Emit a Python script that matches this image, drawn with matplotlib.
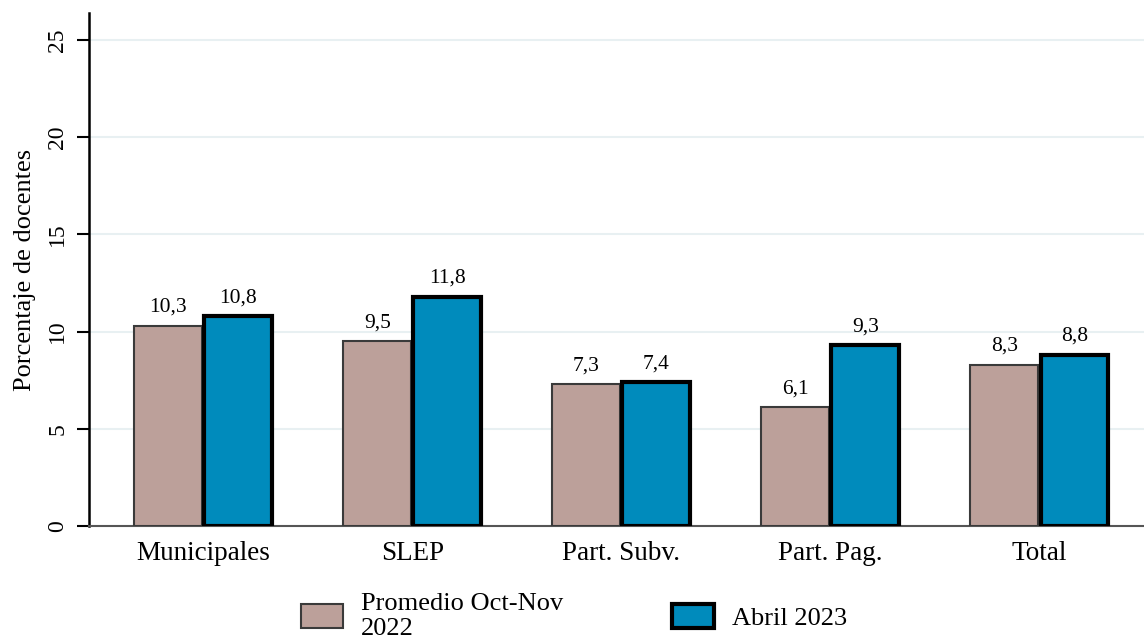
import numpy as np
import matplotlib.pyplot as plt

categories = ["Municipales", "SLEP", "Part. Subv.", "Part. Pag.", "Total"]
promedio_2022 = [10.3, 9.5, 7.3, 6.1, 8.3]
abril_2023 = [10.8, 11.8, 7.4, 9.3, 8.8]
series_labels = ["Promedio Oct-Nov\n2022", "Abril 2023"]
yticks = [0, 5, 10, 15, 20, 25]

plt.rcParams['font.family'] = ['Liberation Serif', 'DejaVu Serif']

fig = plt.figure(figsize=(11.44, 6.4), dpi=100)
ax = fig.add_axes([0.078, 0.178, 0.922, 0.802])

x = np.arange(len(categories))
w = 0.325
b1 = ax.bar(x - w / 2 - 0.005, promedio_2022, w, color='#BCA09A',
            edgecolor='#3a3a3a', linewidth=1.5, label=series_labels[0], zorder=3)
b2 = ax.bar(x + w / 2 + 0.005, abril_2023, w, color='#008BBC',
            edgecolor='black', linewidth=3, label=series_labels[1], zorder=3)

# value labels with comma decimals
for bars, vals in [(b1, promedio_2022), (b2, abril_2023)]:
    for r, v in zip(bars, vals):
        ax.annotate(f"{v:.1f}".replace('.', ','),
                    (r.get_x() + r.get_width() / 2, r.get_height()),
                    xytext=(0, 6.5), textcoords='offset points',
                    ha='center', va='bottom', fontsize=15.5)

ax.set_ylim(0, 26.4)
ax.set_xlim(-0.545, 4.5)
ax.set_yticks(yticks)
ax.set_yticklabels([str(t) for t in yticks], rotation=90, va='center', fontsize=17)
ax.set_xticks(x)
ax.set_xticklabels(categories, fontsize=19.5)
ax.tick_params(axis='x', length=0, pad=11)
ax.tick_params(axis='y', length=9, width=1.5, pad=6)
ax.set_ylabel("Porcentaje de docentes", fontsize=19, labelpad=8)

for t in yticks[1:]:
    ax.axhline(t, color='#E8F0F2', linewidth=1.5, zorder=1)

for s in ['top', 'right']:
    ax.spines[s].set_visible(False)
ax.spines['left'].set_linewidth(1.8)
ax.spines['bottom'].set_color('#555555')
ax.spines['bottom'].set_linewidth(1.5)

fig.legend(handles=[b1, b2], labels=series_labels, loc='upper left',
           bbox_to_anchor=(0.2515, 0.094), ncol=2, frameon=False,
           fontsize=19, handlelength=1.6, handleheight=1.0,
           columnspacing=4.1, handletextpad=0.68, borderpad=0,
           labelspacing=0)

fig.savefig("out.png", dpi=100)
